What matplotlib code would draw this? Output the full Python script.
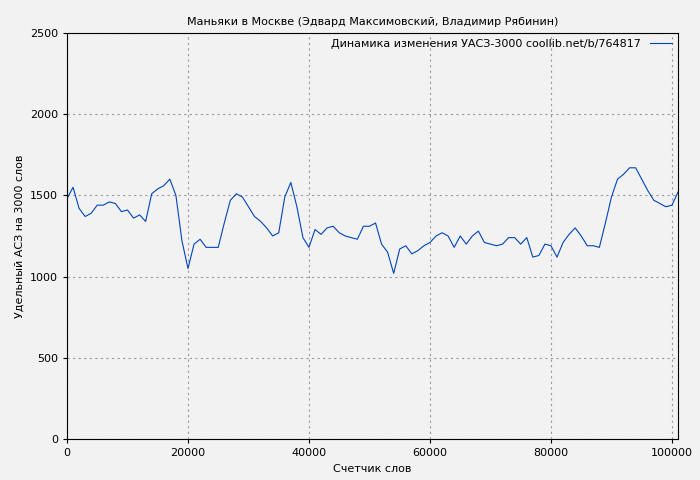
import matplotlib
matplotlib.use("Agg")
import matplotlib.pyplot as plt

x_words = list(range(0, 102000, 1000))
values = [1480,1550,1420,1370,1390,1440,1440,1460,1450,1400,1410,1360,1380,1340,1510,1540,1560,1600,1500,1220,
          1050,1200,1230,1180,1180,1180,1330,1470,1510,1490,1430,1370,1340,1300,1250,1270,1490,1580,1430,1240,
          1180,1290,1260,1300,1310,1270,1250,1240,1230,1310,1310,1330,1200,1150,1020,1170,1190,1140,1160,1190,
          1210,1250,1270,1250,1180,1250,1200,1250,1280,1210,1200,1190,1200,1240,1240,1200,1240,1120,1130,1200,
          1190,1120,1210,1260,1300,1250,1190,1190,1180,1330,1490,1600,1630,1670,1670,1600,1530,1470,1450,1430,
          1440,1520]

fig = plt.figure(figsize=(7, 4.8), dpi=100)
fig.patch.set_facecolor('#f2f2f2')
ax = fig.add_axes([67/700, 41/480, (678-67)/700, (439-33)/480])
ax.set_facecolor('#f2f2f2')
ax.plot(x_words, values, color='#0044bb', lw=0.8, label='Динамика изменения УАСЗ-3000 coollib.net/b/764817')
ax.set_xlim(0, 101000)
ax.set_ylim(0, 2500)
ax.set_xticks([0, 20000, 40000, 60000, 80000, 100000])
ax.set_yticks([0, 500, 1000, 1500, 2000, 2500])
ax.grid(True, ls=(0, (2, 3)), color='#999999', lw=0.8)
ax.tick_params(labelsize=8, direction='out', length=3)
ax.set_title('Маньяки в Москве (Эдвард Максимовский, Владимир Рябинин)', fontsize=8)
ax.set_xlabel('Счетчик слов', fontsize=8)
ax.set_ylabel('Удельный АСЗ на 3000 слов', fontsize=8)
leg = ax.legend(loc='upper right', fontsize=8, frameon=False, markerfirst=False, borderaxespad=0.1)
fig.savefig('out.png', dpi=100, facecolor=fig.get_facecolor())
